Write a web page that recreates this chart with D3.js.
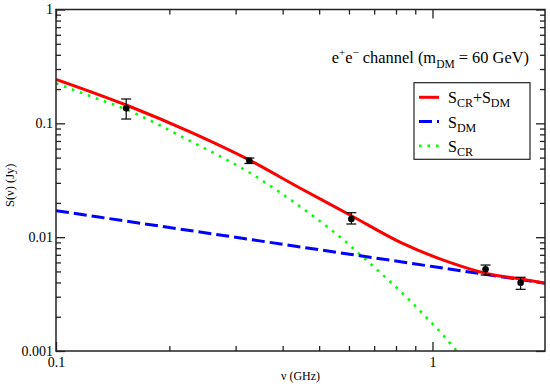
<!DOCTYPE html>
<html>
<head>
<meta charset="utf-8">
<script src="https://cdn.jsdelivr.net/npm/d3@7"></script>
<style>
  body { margin: 0; background: #fff; }
  svg { display: block; }
</style>
</head>
<body>
<script>
// Frequencies in GHz, flux in Jy
var totalNu = [0.1, 0.1536, 0.227, 0.3262, 0.4456, 0.6088, 0.8222, 1.1165, 1.3834, 1.7143, 1.99];
var totalS = [0.2436, 0.1449, 0.0841, 0.0476, 0.02687, 0.01543, 0.0090, 0.00597, 0.004815, 0.00429, 0.003957];

var dmNu = [0.1, 0.2, 0.5, 1, 2];
var dmS = [0.01708, 0.01216, 0.00776, 0.005525, 0.00393];

var crNu = [0.1, 0.1231, 0.1536, 0.227, 0.3262, 0.4456, 0.4845, 0.5738, 0.6486, 0.7298, 0.854, 0.957, 1.0683, 1.1476, 1.198];
var crS = [0.2247, 0.1738, 0.1323, 0.07, 0.03699, 0.01852, 0.01513, 0.009772, 0.006833, 0.004815, 0.002962, 0.002017, 0.001373, 0.001041, 0.000886];

// Observed points with error bars
var obsNu = [0.1536, 0.3262, 0.6088, 1.3834, 1.7143];
var obsS = [0.1355, 0.04695, 0.01443, 0.00522, 0.00398];
var obsLo = [0.1091, 0.04437, 0.01305, 0.004652, 0.003483];
var obsHi = [0.1636, 0.0496, 0.0164, 0.005692, 0.004441];

var xMajor = [0.1, 1];
var xMinor = [0.2, 0.3, 0.4, 0.5, 0.6, 0.7, 0.8, 0.9];
var yMajor = [0.001, 0.01, 0.1, 1];
var yMinor = [];
[0.001, 0.01, 0.1].forEach(function(d) {
	for (var k = 2; k <= 9; k++) yMinor.push(d * k);
});

var W = 550, H = 386;
var margin = {top: 9.5, right: 5, bottom: 35, left: 56};
var serif = "Liberation Serif, Times New Roman, serif";

var x = d3.scaleLog().domain([0.1, 1.99]).range([margin.left, W - margin.right]);
var y = d3.scaleLog().domain([0.001, 1]).range([H - margin.bottom, margin.top]);

var svg = d3.select("body")
	.append("svg")
		.attr("width", W)
		.attr("height", H);

svg.append("defs").append("clipPath")
	.attr("id", "plot")
	.append("rect")
		.attr("x", margin.left)
		.attr("y", margin.top)
		.attr("width", W - margin.right - margin.left)
		.attr("height", H - margin.bottom - margin.top);

// Axes: major and minor ticks on all four sides, pointing inward
function styleAxis(g) {
	g.select(".domain").remove();
	g.selectAll(".tick line").attr("stroke", "#222").attr("stroke-width", 1.3);
	g.attr("font-family", serif).attr("font-size", 14);
	g.selectAll(".tick text").attr("fill", "#000");
}

var fmt = d3.format("~g");

svg.append("g")
	.attr("transform", "translate(0," + (H - margin.bottom) + ")")
	.call(d3.axisBottom(x).tickValues(xMajor).tickSize(-9).tickSizeOuter(0).tickPadding(6).tickFormat(fmt))
	.call(styleAxis);
svg.append("g")
	.attr("transform", "translate(0," + (H - margin.bottom) + ")")
	.call(d3.axisBottom(x).tickValues(xMinor).tickSize(-5).tickSizeOuter(0).tickFormat(""))
	.call(styleAxis);
svg.append("g")
	.attr("transform", "translate(0," + margin.top + ")")
	.call(d3.axisTop(x).tickValues(xMajor).tickSize(-9).tickSizeOuter(0).tickFormat(""))
	.call(styleAxis);
svg.append("g")
	.attr("transform", "translate(0," + margin.top + ")")
	.call(d3.axisTop(x).tickValues(xMinor).tickSize(-5).tickSizeOuter(0).tickFormat(""))
	.call(styleAxis);

svg.append("g")
	.attr("transform", "translate(" + margin.left + ",0)")
	.call(d3.axisLeft(y).tickValues(yMajor).tickSize(-9).tickSizeOuter(0).tickPadding(3).tickFormat(fmt))
	.call(styleAxis);
svg.append("g")
	.attr("transform", "translate(" + margin.left + ",0)")
	.call(d3.axisLeft(y).tickValues(yMinor).tickSize(-5).tickSizeOuter(0).tickFormat(""))
	.call(styleAxis);
svg.append("g")
	.attr("transform", "translate(" + (W - margin.right) + ",0)")
	.call(d3.axisRight(y).tickValues(yMajor).tickSize(-9).tickSizeOuter(0).tickFormat(""))
	.call(styleAxis);
svg.append("g")
	.attr("transform", "translate(" + (W - margin.right) + ",0)")
	.call(d3.axisRight(y).tickValues(yMinor).tickSize(-5).tickSizeOuter(0).tickFormat(""))
	.call(styleAxis);

// Axis labels
svg.append("text")
	.attr("x", (margin.left + W - margin.right) / 2)
	.attr("y", 380)
	.attr("text-anchor", "middle")
	.attr("font-family", serif)
	.attr("font-size", 12)
	.text("\u03bd (GHz)");

svg.append("text")
	.attr("transform", "translate(14," + ((margin.top + H - margin.bottom) / 2 + 5) + ") rotate(-90)")
	.attr("text-anchor", "middle")
	.attr("font-family", serif)
	.attr("font-size", 12.5)
	.text("S(\u03bd) (Jy)");

// Curves
var line = d3.line()
	.x(function(d) { return x(d[0]); })
	.y(function(d) { return y(d[1]); })
	.curve(d3.curveMonotoneX);

var curves = svg.append("g").attr("clip-path", "url(#plot)");

curves.append("path")
	.attr("d", line(d3.zip(crNu, crS)))
	.attr("fill", "none")
	.attr("stroke", "#00ff00")
	.attr("stroke-width", 2.6)
	.attr("stroke-dasharray", "2.6,5.9");

curves.append("path")
	.attr("d", line(d3.zip(dmNu, dmS)))
	.attr("fill", "none")
	.attr("stroke", "#0000ff")
	.attr("stroke-width", 3)
	.attr("stroke-dasharray", "13,5");

curves.append("path")
	.attr("d", line(d3.zip(totalNu, totalS)))
	.attr("fill", "none")
	.attr("stroke", "#ff0000")
	.attr("stroke-width", 3);

// Data points with error bars
var pts = svg.append("g")
	.selectAll("g")
	.data(d3.range(obsNu.length))
	.enter().append("g");

pts.append("line")
	.attr("x1", function(i) { return x(obsNu[i]); })
	.attr("x2", function(i) { return x(obsNu[i]); })
	.attr("y1", function(i) { return y(obsLo[i]); })
	.attr("y2", function(i) { return y(obsHi[i]); })
	.attr("stroke", "#000")
	.attr("stroke-width", 1.2);

[obsLo, obsHi].forEach(function(arr) {
	pts.append("line")
		.attr("x1", function(i) { return x(obsNu[i]) - 5; })
		.attr("x2", function(i) { return x(obsNu[i]) + 5; })
		.attr("y1", function(i) { return y(arr[i]); })
		.attr("y2", function(i) { return y(arr[i]); })
		.attr("stroke", "#000")
		.attr("stroke-width", 1.2);
});

pts.append("circle")
	.attr("cx", function(i) { return x(obsNu[i]); })
	.attr("cy", function(i) { return y(obsS[i]); })
	.attr("r", 3.3)
	.attr("fill", "#000");

// Frame
svg.append("rect")
	.attr("x", margin.left)
	.attr("y", margin.top)
	.attr("width", W - margin.right - margin.left)
	.attr("height", H - margin.bottom - margin.top)
	.attr("fill", "none")
	.attr("stroke", "#222")
	.attr("stroke-width", 1.5);

// Title
var title = svg.append("text")
	.attr("x", 529)
	.attr("y", 63)
	.attr("text-anchor", "end")
	.attr("font-family", serif)
	.attr("font-size", 16.4);
title.append("tspan").text("e");
title.append("tspan").attr("dy", -7).attr("font-size", 11).text("+");
title.append("tspan").attr("dy", 7).text("e");
title.append("tspan").attr("dy", -7).attr("font-size", 11).text("\u2212");
title.append("tspan").attr("dy", 7).text(" channel (m");
title.append("tspan").attr("dy", 5).attr("font-size", 11.5).text("DM");
title.append("tspan").attr("dy", -5).text(" = 60 GeV)");

// Legend
var legend = svg.append("g");
legend.append("rect")
	.attr("x", 414)
	.attr("y", 82.7)
	.attr("width", 116)
	.attr("height", 76.6)
	.attr("fill", "#fff")
	.attr("stroke", "#222")
	.attr("stroke-width", 1.2);

var legItems = [
	{parts: [["S", 0], ["CR", 1], ["+S", 0], ["DM", 1]], color: "#ff0000", dash: null, width: 3},
	{parts: [["S", 0], ["DM", 1]], color: "#0000ff", dash: "13,5", width: 3},
	{parts: [["S", 0], ["CR", 1]], color: "#00ff00", dash: "2.6,5.9", width: 2.6}
];

legItems.forEach(function(item, i) {
	var ly = 97.3 + i * 24.3;
	legend.append("line")
		.attr("x1", 419)
		.attr("x2", 439)
		.attr("y1", ly)
		.attr("y2", ly)
		.attr("stroke", item.color)
		.attr("stroke-width", item.width)
		.attr("stroke-dasharray", item.dash);
	var t = legend.append("text")
		.attr("x", 448)
		.attr("y", ly + 6)
		.attr("font-family", serif)
		.attr("font-size", 16);
	var sub = 0;
	item.parts.forEach(function(p) {
		var dy = (p[1] - sub) * 4;
		sub = p[1];
		t.append("tspan")
			.attr("dy", dy)
			.attr("font-size", p[1] ? 12 : 16)
			.text(p[0]);
	});
});
</script>
</body>
</html>
